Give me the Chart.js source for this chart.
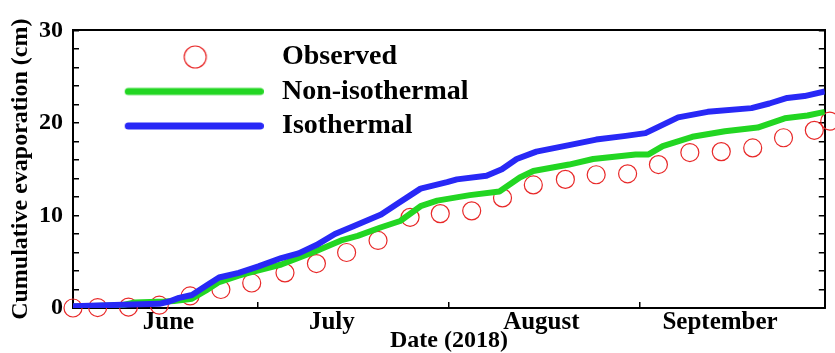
<!DOCTYPE html>
<html><head><meta charset="utf-8">
<script src="https://cdn.jsdelivr.net/npm/chart.js@4"></script>
<style>html,body{margin:0;padding:0;background:#fff;}#wrap{width:835px;height:353px;}</style>
</head><body><div id="wrap"><canvas id="c" width="835" height="353"></canvas></div>
<script>
// ---- data (days counted from 1 June 2018) ----
const monthLabels = ['June', 'July', 'August', 'September'];
const monthLabelDays = [15.5, 42, 76, 105];
const monthBoundaryDays = [0, 30, 61, 92, 122];
const seriesNames = ['Observed', 'Non-isothermal', 'Isothermal'];

const obsDays = [0, 4, 9, 14, 19, 24, 29, 34.4, 39.5, 44.4, 49.5, 54.7, 59.6, 64.7, 69.7, 74.7, 79.9, 84.9, 90, 95, 100.1, 105.2, 110.3, 115.3, 120.3, 122.8];
const obsValues = [0, 0.05, 0.1, 0.3, 1.3, 2.0, 2.7, 3.8, 4.8, 6.0, 7.3, 9.8, 10.2, 10.5, 11.9, 13.3, 13.9, 14.4, 14.5, 15.5, 16.8, 16.9, 17.3, 18.4, 19.2, 20.2];

const nonIsoDays = [0, 8, 10, 15, 16.4, 19.3, 21.6, 23.7, 26.9, 28.5, 33.8, 39.3, 43.5, 46.2, 49.9, 53.1, 56.4, 59.1, 64.4, 69.2, 72.5, 74.7, 80.5, 84.4, 91.3, 93.4, 95.7, 100.5, 105.8, 111.1, 115.5, 119.2, 122];
const nonIsoValues = [0.15, 0.3, 0.6, 0.7, 0.75, 1.0, 1.9, 2.8, 3.5, 3.8, 4.7, 6.1, 7.3, 7.8, 8.7, 9.4, 11.0, 11.6, 12.2, 12.6, 14.1, 14.8, 15.5, 16.1, 16.6, 16.6, 17.5, 18.5, 19.1, 19.5, 20.5, 20.8, 21.2];

const isoDays = [0, 8, 14, 15.6, 17.2, 19.3, 21.6, 23.7, 26.9, 30.1, 33.8, 36.6, 39.5, 42.5, 45.7, 50, 52.7, 56.4, 60.7, 62.3, 67.1, 69.6, 72, 75.2, 80.5, 84.9, 89.7, 92.9, 98.2, 103, 110.1, 113, 115.9, 118.7, 122];
const isoValues = [0.2, 0.35, 0.45, 0.7, 1.1, 1.4, 2.4, 3.3, 3.8, 4.5, 5.4, 5.9, 6.8, 8.0, 8.9, 10.1, 11.3, 12.9, 13.6, 13.9, 14.3, 15.0, 16.1, 16.9, 17.6, 18.2, 18.6, 18.9, 20.6, 21.2, 21.6, 22.1, 22.7, 22.9, 23.4];

const yMin = 0, yMax = 30, yTickStep = 2, yLabelStep = 10;

// ---- styles ----
const RED = 'rgb(232,40,40)';
const GREEN = 'rgb(34,214,34)';
const BLUE = 'rgb(40,40,246)';
const FONT = 'Liberation Serif';
const tickFont = { family: FONT, size: 24, weight: 'bold', lineHeight: 1.2 };
const monthFont = { family: FONT, size: 25, weight: 'bold', lineHeight: 1.2 };
const titleFont = { family: FONT, size: 24, weight: 'bold', lineHeight: 1 };
const legendFont = { family: FONT, size: 28, weight: 'bold', lineHeight: 1 };

const toXY = (xs, ys) => xs.map((x, i) => ({ x: x, y: ys[i] }));

// legend sample images (centred on the legend box centre)
function lineSample(color) {
  const c = document.createElement('canvas');
  c.width = 180; c.height = 20;
  const g = c.getContext('2d');
  g.strokeStyle = color; g.lineWidth = 7; g.lineCap = 'round';
  g.beginPath(); g.moveTo(44.5, 10); g.lineTo(176.5, 10); g.stroke();
  return c;
}
function circleSample(color) {
  const c = document.createElement('canvas');
  c.width = 69; c.height = 30;
  const g = c.getContext('2d');
  g.strokeStyle = color; g.lineWidth = 1.2;
  g.beginPath(); g.arc(56, 15, 11, 0, Math.PI * 2); g.stroke();
  return c;
}
const samples = [circleSample(RED), lineSample(GREEN), lineSample(BLUE)];

new Chart(document.getElementById('c'), {
  type: 'line',
  data: {
    datasets: [
      { label: seriesNames[0], data: toXY(obsDays, obsValues), showLine: false,
        pointRadius: 9, pointBorderWidth: 1.2, pointBorderColor: RED, borderColor: RED,
        pointBackgroundColor: 'rgba(0,0,0,0)', backgroundColor: 'rgba(0,0,0,0)', order: 3, clip: false },
      { label: seriesNames[1], data: toXY(nonIsoDays, nonIsoValues), borderColor: GREEN, backgroundColor: GREEN,
        borderWidth: 6, pointRadius: 0, tension: 0, borderJoinStyle: 'round', order: 2 },
      { label: seriesNames[2], data: toXY(isoDays, isoValues), borderColor: BLUE, backgroundColor: BLUE,
        borderWidth: 6, pointRadius: 0, tension: 0, borderJoinStyle: 'round', order: 1 }
    ]
  },
  options: {
    responsive: false,
    animation: false,
    devicePixelRatio: 1,
    layout: { padding: { left: 0, top: 23, right: 4, bottom: 0 } },
    plugins: {
      tooltip: { enabled: false },
      legend: {
        display: true,
        position: 'chartArea',
        align: 'start',
        title: { display: true, text: ' ', font: { size: 36.5, lineHeight: 1 }, padding: 0 },
        labels: {
          usePointStyle: true,
          pointStyleWidth: 188.5,
          boxHeight: 28,
          padding: 6.5,
          font: legendFont,
          color: '#000',
          generateLabels: (chart) => seriesNames.map((name, i) => ({
            text: name, pointStyle: samples[i], fillStyle: 'rgba(0,0,0,0)', strokeStyle: 'rgba(0,0,0,0)',
            lineWidth: 0, hidden: false, datasetIndex: i, fontColor: '#000'
          }))
        }
      }
    },
    scales: {
      x: {
        type: 'linear', position: 'bottom', min: monthBoundaryDays[0], max: monthBoundaryDays[monthBoundaryDays.length - 1], weight: 0,
        afterBuildTicks: (s) => { s.ticks = monthBoundaryDays.map(v => ({ value: v })); },
        ticks: { display: false },
        grid: { display: true, drawOnChartArea: false, drawTicks: true, tickLength: -6, color: '#000', lineWidth: 1.5 },
        border: { display: true, color: '#000', width: 2 },
        afterFit: (s) => { s.height = 0; }
      },
      xm: {
        type: 'linear', position: 'bottom', min: monthBoundaryDays[0], max: monthBoundaryDays[monthBoundaryDays.length - 1], weight: 1,
        afterBuildTicks: (s) => { s.ticks = monthLabelDays.map(v => ({ value: v })); },
        ticks: { autoSkip: false, maxRotation: 0, padding: 0, font: monthFont, color: '#000',
          callback: (v, i) => monthLabels[i] },
        grid: { display: false, drawTicks: false },
        border: { display: false },
        title: { display: true, text: 'Date (2018)', font: titleFont, color: '#000', padding: 0 },
        afterFit: (s) => { s.height = 45; }
      },
      xTop: {
        type: 'linear', position: 'top', min: 0, max: 122,
        ticks: { display: false },
        grid: { display: true, drawOnChartArea: false, drawTicks: false },
        border: { display: true, color: '#000', width: 2 },
        afterFit: (s) => { s.height = 0; }
      },
      y: {
        type: 'linear', position: 'left', min: yMin, max: yMax,
        ticks: { stepSize: yTickStep, autoSkip: false, padding: 16, font: tickFont, color: '#000',
          callback: (v) => (v % yLabelStep === 0 ? String(v) : '') },
        grid: { display: true, drawOnChartArea: false, drawTicks: true, tickLength: -6, color: '#000', lineWidth: 1.5 },
        border: { display: true, color: '#000', width: 2 },
        title: { display: true, text: 'Cumulative evaporation (cm)', font: titleFont, color: '#000', padding: { top: 9, bottom: 0 } },
        afterFit: (s) => { s.width = 73; }
      },
      y2: {
        type: 'linear', position: 'right', min: yMin, max: yMax,
        ticks: { display: false, stepSize: yTickStep },
        grid: { display: true, drawOnChartArea: false, drawTicks: true, tickLength: -6, color: '#000', lineWidth: 1.5 },
        border: { display: true, color: '#000', width: 2 },
        afterFit: (s) => { s.width = 0; }
      }
    }
  }
});
</script>
</body></html>
